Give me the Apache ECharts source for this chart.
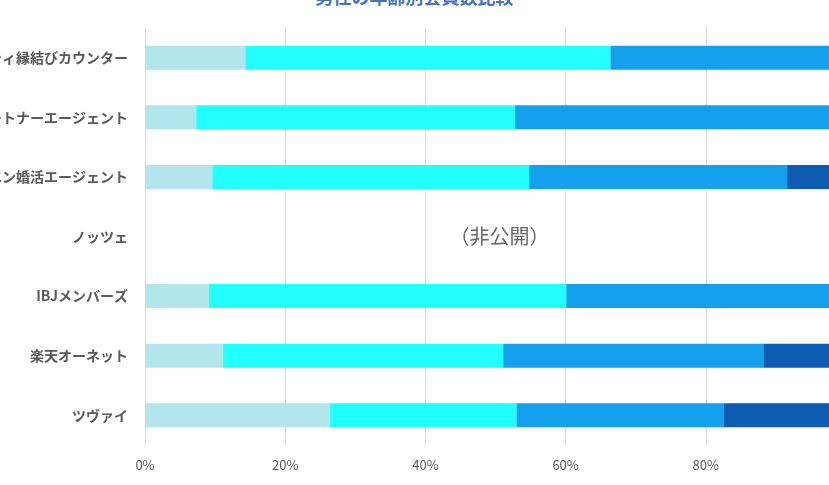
<!DOCTYPE html>
<html>
<head>
<meta charset="utf-8">
<script src="https://cdn.jsdelivr.net/npm/echarts@6/dist/echarts.min.js"></script>
<style>
  html, body { margin: 0; padding: 0; background: #fff; }
  #chart { width: 829px; height: 485px; }
</style>
</head>
<body>
<div id="chart"></div>
<script>
// ---- data (percent of members by age group) ----
var categories = ['ゼクシィ縁結びカウンター', 'パートナーエージェント', 'エン婚活エージェント',
  'ノッツェ', 'IBJメンバーズ', '楽天オーネット', 'ツヴァイ'];
var age20 = [14.3, 7.3, 9.6, null, 9.1, 11.1, 26.4];
var age30 = [52.1, 45.5, 45.2, null, 51.0, 40.0, 26.6];
var age40 = [33.6, 47.2, 36.8, null, 39.9, 37.1, 29.6];
var age50 = [0, 0, 8.4, null, 0, 11.8, 17.4];
// ノッツェ has no published numbers
var hidden = [null, null, null, 100, null, null, null];

var font = '"Noto Sans CJK JP", "Noto Sans", sans-serif';

var chart = echarts.init(document.getElementById('chart'));

function seg(name, data, color) {
  return {
    name: name,
    type: 'bar',
    stack: 'total',
    barWidth: 24,
    data: data,
    itemStyle: { color: color },
    emphasis: { disabled: true }
  };
}

var option = {
  animation: false,
  title: {
    text: '男性の年齢別会員数比較',
    left: 'center',
    top: -12,
    padding: 0,
    textStyle: { color: '#4472c4', fontSize: 18, fontWeight: 'bold', fontFamily: font }
  },
  // the original chart is wider than the window: it is cut on the left and right
  grid: { left: 145, right: -17, top: 28, bottom: 40, containLabel: false, outerBoundsMode: 'none' },
  xAxis: {
    type: 'value',
    min: 0,
    max: 100,
    interval: 20,
    axisLine: { show: false },
    axisTick: { show: false },
    axisLabel: { formatter: '{value}%', color: '#595959', fontSize: 13, fontFamily: font, margin: 14 },
    splitLine: { lineStyle: { color: '#d9d9d9', width: 1 } }
  },
  yAxis: {
    type: 'category',
    inverse: true,
    data: categories,
    axisLine: { show: false },
    axisTick: { show: false },
    axisLabel: { color: '#595959', fontSize: 14, fontWeight: 'bold', fontFamily: font, margin: 17 }
  },
  series: [
    seg('20代', age20, '#b2e5ec'),
    seg('30代', age30, '#22ffff'),
    seg('40代', age40, '#14a0ed'),
    seg('50代以上', age50, '#0d5cb3'),
    {
      name: '非公開',
      type: 'bar',
      stack: 'total',
      barWidth: 24,
      data: hidden,
      itemStyle: { color: 'rgba(0,0,0,0)' },
      label: {
        show: true,
        position: 'inside',
        offset: [4, 0],
        formatter: '（非公開）',
        color: '#666',
        fontSize: 20,
        fontFamily: font
      },
      emphasis: { disabled: true }
    }
  ]
};

chart.setOption(option);
</script>
</body>
</html>
